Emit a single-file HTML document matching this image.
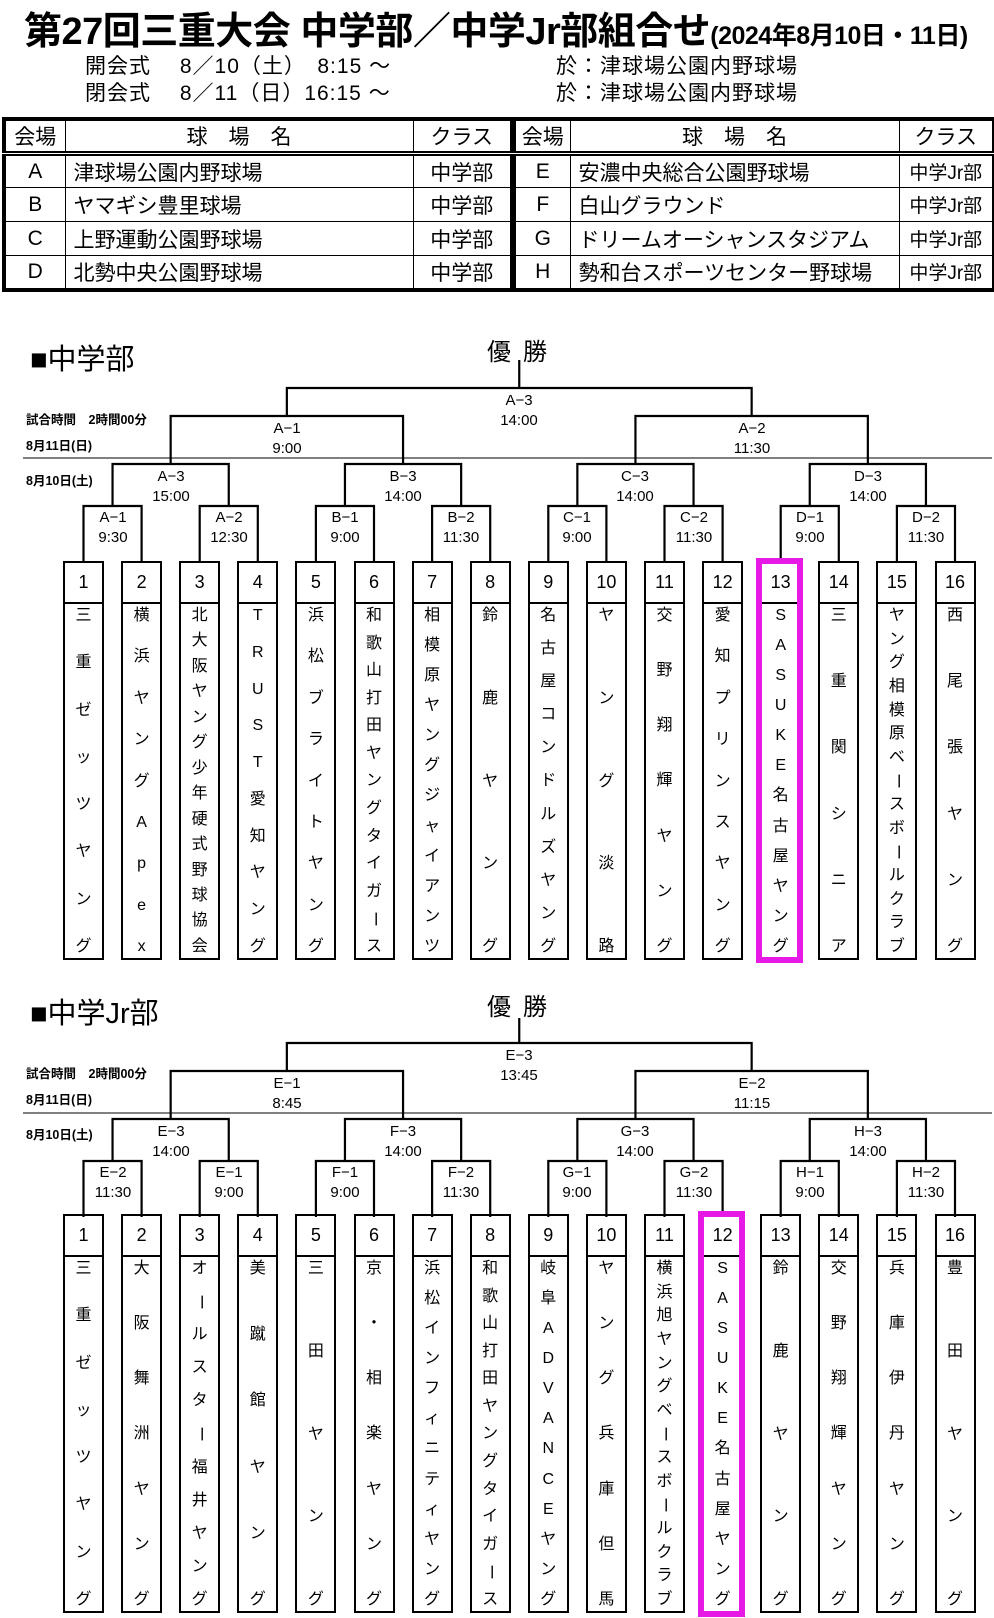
<!DOCTYPE html>
<html><head><meta charset="utf-8">
<style>
*{margin:0;padding:0;box-sizing:border-box}
body{width:994px;height:1618px;position:relative;background:#fff;font-family:"Liberation Sans","Noto Sans CJK JP",sans-serif;color:#000;overflow:hidden}
.a{position:absolute;white-space:nowrap}
.title{left:24px;top:0px;font-size:38px;font-weight:bold;letter-spacing:-0.5px}
.title small{font-size:25px;letter-spacing:-0.5px}
.sub{font-size:21px;letter-spacing:1px}
table{position:absolute;border-collapse:collapse;border:4px solid #000;table-layout:fixed}
td{border:1.5px solid #000;font-size:21px;height:34px;padding:0;text-align:center}
tr.h td{border-bottom:5px double #000}
td.n{text-align:left;padding-left:8px}
.num{position:absolute;width:41px;height:43px;border:2.5px solid #000;font-size:18px;text-align:center;line-height:38px}
.nm{position:absolute;width:41px;height:358px;border:2.5px solid #000;display:flex;flex-direction:column;justify-content:space-between;align-items:center;padding:3px 0 2px;font-size:16px;line-height:18px}
.nm i{font-style:normal;display:block;height:18px}
.nm i.r{transform:rotate(90deg)}
.hl{position:absolute;width:47px;border:6px solid #e619e6}
.head{font-size:29px}
.win{font-size:24px;letter-spacing:12px}
.sm{font-size:12.5px;font-weight:bold}
</style></head><body>
<div class="a title">第27回三重大会 中学部／中学Jr部組合せ<small>(2024年8月10日・11日)</small></div>
<div class="a sub" style="left:85px;top:50px">開会式　 8／10（土）　8:15 ～</div>
<div class="a sub" style="left:85px;top:77px">閉会式　 8／11（日）16:15 ～</div>
<div class="a sub" style="left:556px;top:50px">於：津球場公園内野球場</div>
<div class="a sub" style="left:556px;top:77px">於：津球場公園内野球場</div>

<table style="left:2px;top:117px;width:508px">
<colgroup><col style="width:61px"><col style="width:348px"><col style="width:99px"></colgroup>
<tr class="h"><td>会場</td><td>球　場　名</td><td>クラス</td></tr>
<tr><td>A</td><td class="n">津球場公園内野球場</td><td>中学部</td></tr>
<tr><td>B</td><td class="n">ヤマギシ豊里球場</td><td>中学部</td></tr>
<tr><td>C</td><td class="n">上野運動公園野球場</td><td>中学部</td></tr>
<tr><td>D</td><td class="n">北勢中央公園野球場</td><td>中学部</td></tr>
</table>
<table style="left:512px;top:117px;width:480px">
<colgroup><col style="width:56px"><col style="width:329px"><col style="width:95px"></colgroup>
<tr class="h"><td>会場</td><td>球　場　名</td><td>クラス</td></tr>
<tr><td>E</td><td class="n">安濃中央総合公園野球場</td><td style="font-size:19px">中学Jr部</td></tr>
<tr><td>F</td><td class="n">白山グラウンド</td><td style="font-size:19px">中学Jr部</td></tr>
<tr><td>G</td><td class="n">ドリームオーシャンスタジアム</td><td style="font-size:19px">中学Jr部</td></tr>
<tr><td>H</td><td class="n">勢和台スポーツセンター野球場</td><td style="font-size:19px">中学Jr部</td></tr>
</table>

<div class="a head" style="left:30px;top:336px">■中学部</div>
<div class="a win" style="left:487px;top:332px">優勝</div>
<div class="a head" style="left:30px;top:990px">■中学Jr部</div>
<div class="a win" style="left:487px;top:987px">優勝</div>

<div class="a sm" style="left:26px;top:409px">試合時間　2時間00分</div>
<div class="a sm" style="left:26px;top:435px">8月11日(日)</div>
<div class="a sm" style="left:26px;top:470px">8月10日(土)</div>
<div class="a sm" style="left:26px;top:1063px">試合時間　2時間00分</div>
<div class="a sm" style="left:26px;top:1089px">8月11日(日)</div>
<div class="a sm" style="left:26px;top:1124px">8月10日(土)</div>

<svg class="a" style="left:0;top:0" width="994" height="1618">
<g fill="none" stroke="#000" stroke-width="2.2">
<g id="br">
<path d="M83.5 562V506H141.6V562M199.7 562V506H257.8V562M315.9 562V506H374V562M432.1 562V506H490.2V562M548.3 562V506H606.4V562M664.5 562V506H722.6V562M780.7 562V506H838.8V562M896.9 562V506H955V562"/>
<path d="M112.55 506V464H228.75V506M344.95 506V464H461.15V506M577.35 506V464H693.55V506M809.75 506V464H925.95V506"/>
<path d="M170.65 464V416H403.05V464M635.45 464V416H867.85V464"/>
<path d="M286.85 416V388H751.65V416"/>
</g>
<use href="#br" transform="translate(0,655)"/>
<path d="M519.25 388V360M519.25 1043V1018"/>
</g>
<path d="M23 458H992M23 1113H992" stroke="#000" stroke-width="1"/>
<g font-family="Liberation Sans, Noto Sans CJK JP, sans-serif" font-size="15" text-anchor="middle">
<text x="519" y="405">A−3</text><text x="519" y="425">14:00</text>
<text x="287" y="433">A−1</text><text x="287" y="453">9:00</text>
<text x="752" y="433">A−2</text><text x="752" y="453">11:30</text>
<text x="171" y="481">A−3</text><text x="171" y="501">15:00</text>
<text x="403" y="481">B−3</text><text x="403" y="501">14:00</text>
<text x="635" y="481">C−3</text><text x="635" y="501">14:00</text>
<text x="868" y="481">D−3</text><text x="868" y="501">14:00</text>
<text x="113" y="522">A−1</text><text x="113" y="542">9:30</text>
<text x="229" y="522">A−2</text><text x="229" y="542">12:30</text>
<text x="345" y="522">B−1</text><text x="345" y="542">9:00</text>
<text x="461" y="522">B−2</text><text x="461" y="542">11:30</text>
<text x="577" y="522">C−1</text><text x="577" y="542">9:00</text>
<text x="694" y="522">C−2</text><text x="694" y="542">11:30</text>
<text x="810" y="522">D−1</text><text x="810" y="542">9:00</text>
<text x="926" y="522">D−2</text><text x="926" y="542">11:30</text>

<text x="519" y="1060">E−3</text><text x="519" y="1080">13:45</text>
<text x="287" y="1088">E−1</text><text x="287" y="1108">8:45</text>
<text x="752" y="1088">E−2</text><text x="752" y="1108">11:15</text>
<text x="171" y="1136">E−3</text><text x="171" y="1156">14:00</text>
<text x="403" y="1136">F−3</text><text x="403" y="1156">14:00</text>
<text x="635" y="1136">G−3</text><text x="635" y="1156">14:00</text>
<text x="868" y="1136">H−3</text><text x="868" y="1156">14:00</text>
<text x="113" y="1177">E−2</text><text x="113" y="1197">11:30</text>
<text x="229" y="1177">E−1</text><text x="229" y="1197">9:00</text>
<text x="345" y="1177">F−1</text><text x="345" y="1197">9:00</text>
<text x="461" y="1177">F−2</text><text x="461" y="1197">11:30</text>
<text x="577" y="1177">G−1</text><text x="577" y="1197">9:00</text>
<text x="694" y="1177">G−2</text><text x="694" y="1197">11:30</text>
<text x="810" y="1177">H−1</text><text x="810" y="1197">9:00</text>
<text x="926" y="1177">H−2</text><text x="926" y="1197">11:30</text>
</g>
</svg>

<!-- Section 1 -->
<div class="num" style="left:63px;top:561px">1</div>
<div class="num" style="left:121.1px;top:561px">2</div>
<div class="num" style="left:179.2px;top:561px">3</div>
<div class="num" style="left:237.3px;top:561px">4</div>
<div class="num" style="left:295.4px;top:561px">5</div>
<div class="num" style="left:353.5px;top:561px">6</div>
<div class="num" style="left:411.6px;top:561px">7</div>
<div class="num" style="left:469.7px;top:561px">8</div>
<div class="num" style="left:527.8px;top:561px">9</div>
<div class="num" style="left:585.9px;top:561px">10</div>
<div class="num" style="left:644px;top:561px">11</div>
<div class="num" style="left:702.1px;top:561px">12</div>
<div class="num" style="left:760.2px;top:561px">13</div>
<div class="num" style="left:818.3px;top:561px">14</div>
<div class="num" style="left:876.4px;top:561px">15</div>
<div class="num" style="left:934.5px;top:561px">16</div>

<div class="nm" style="left:63px;top:602px"><i>三</i><i>重</i><i>ゼ</i><i>ッ</i><i>ツ</i><i>ヤ</i><i>ン</i><i>グ</i></div>
<div class="nm" style="left:121.1px;top:602px"><i>横</i><i>浜</i><i>ヤ</i><i>ン</i><i>グ</i><i>A</i><i>p</i><i>e</i><i>x</i></div>
<div class="nm" style="left:179.2px;top:602px"><i>北</i><i>大</i><i>阪</i><i>ヤ</i><i>ン</i><i>グ</i><i>少</i><i>年</i><i>硬</i><i>式</i><i>野</i><i>球</i><i>協</i><i>会</i></div>
<div class="nm" style="left:237.3px;top:602px"><i>T</i><i>R</i><i>U</i><i>S</i><i>T</i><i>愛</i><i>知</i><i>ヤ</i><i>ン</i><i>グ</i></div>
<div class="nm" style="left:295.4px;top:602px"><i>浜</i><i>松</i><i>ブ</i><i>ラ</i><i>イ</i><i>ト</i><i>ヤ</i><i>ン</i><i>グ</i></div>
<div class="nm" style="left:353.5px;top:602px"><i>和</i><i>歌</i><i>山</i><i>打</i><i>田</i><i>ヤ</i><i>ン</i><i>グ</i><i>タ</i><i>イ</i><i>ガ</i><i class="r">ー</i><i>ス</i></div>
<div class="nm" style="left:411.6px;top:602px"><i>相</i><i>模</i><i>原</i><i>ヤ</i><i>ン</i><i>グ</i><i>ジ</i><i>ャ</i><i>イ</i><i>ア</i><i>ン</i><i>ツ</i></div>
<div class="nm" style="left:469.7px;top:602px"><i>鈴</i><i>鹿</i><i>ヤ</i><i>ン</i><i>グ</i></div>
<div class="nm" style="left:527.8px;top:602px"><i>名</i><i>古</i><i>屋</i><i>コ</i><i>ン</i><i>ド</i><i>ル</i><i>ズ</i><i>ヤ</i><i>ン</i><i>グ</i></div>
<div class="nm" style="left:585.9px;top:602px"><i>ヤ</i><i>ン</i><i>グ</i><i>淡</i><i>路</i></div>
<div class="nm" style="left:644px;top:602px"><i>交</i><i>野</i><i>翔</i><i>輝</i><i>ヤ</i><i>ン</i><i>グ</i></div>
<div class="nm" style="left:702.1px;top:602px"><i>愛</i><i>知</i><i>プ</i><i>リ</i><i>ン</i><i>ス</i><i>ヤ</i><i>ン</i><i>グ</i></div>
<div class="nm" style="left:760.2px;top:602px"><i>S</i><i>A</i><i>S</i><i>U</i><i>K</i><i>E</i><i>名</i><i>古</i><i>屋</i><i>ヤ</i><i>ン</i><i>グ</i></div>
<div class="nm" style="left:818.3px;top:602px"><i>三</i><i>重</i><i>関</i><i>シ</i><i>ニ</i><i>ア</i></div>
<div class="nm" style="left:876.4px;top:602px"><i>ヤ</i><i>ン</i><i>グ</i><i>相</i><i>模</i><i>原</i><i>ベ</i><i class="r">ー</i><i>ス</i><i>ボ</i><i class="r">ー</i><i>ル</i><i>ク</i><i>ラ</i><i>ブ</i></div>
<div class="nm" style="left:934.5px;top:602px"><i>西</i><i>尾</i><i>張</i><i>ヤ</i><i>ン</i><i>グ</i></div>
<div class="hl" style="left:756px;top:558px;height:405px"></div>

<!-- Section 2 -->
<div class="num" style="left:63px;top:1214px">1</div>
<div class="num" style="left:121.1px;top:1214px">2</div>
<div class="num" style="left:179.2px;top:1214px">3</div>
<div class="num" style="left:237.3px;top:1214px">4</div>
<div class="num" style="left:295.4px;top:1214px">5</div>
<div class="num" style="left:353.5px;top:1214px">6</div>
<div class="num" style="left:411.6px;top:1214px">7</div>
<div class="num" style="left:469.7px;top:1214px">8</div>
<div class="num" style="left:527.8px;top:1214px">9</div>
<div class="num" style="left:585.9px;top:1214px">10</div>
<div class="num" style="left:644px;top:1214px">11</div>
<div class="num" style="left:702.1px;top:1214px">12</div>
<div class="num" style="left:760.2px;top:1214px">13</div>
<div class="num" style="left:818.3px;top:1214px">14</div>
<div class="num" style="left:876.4px;top:1214px">15</div>
<div class="num" style="left:934.5px;top:1214px">16</div>

<div class="nm" style="left:63px;top:1255px"><i>三</i><i>重</i><i>ゼ</i><i>ッ</i><i>ツ</i><i>ヤ</i><i>ン</i><i>グ</i></div>
<div class="nm" style="left:121.1px;top:1255px"><i>大</i><i>阪</i><i>舞</i><i>洲</i><i>ヤ</i><i>ン</i><i>グ</i></div>
<div class="nm" style="left:179.2px;top:1255px"><i>オ</i><i class="r">ー</i><i>ル</i><i>ス</i><i>タ</i><i class="r">ー</i><i>福</i><i>井</i><i>ヤ</i><i>ン</i><i>グ</i></div>
<div class="nm" style="left:237.3px;top:1255px"><i>美</i><i>蹴</i><i>館</i><i>ヤ</i><i>ン</i><i>グ</i></div>
<div class="nm" style="left:295.4px;top:1255px"><i>三</i><i>田</i><i>ヤ</i><i>ン</i><i>グ</i></div>
<div class="nm" style="left:353.5px;top:1255px"><i>京</i><i>・</i><i>相</i><i>楽</i><i>ヤ</i><i>ン</i><i>グ</i></div>
<div class="nm" style="left:411.6px;top:1255px"><i>浜</i><i>松</i><i>イ</i><i>ン</i><i>フ</i><i>ィ</i><i>ニ</i><i>テ</i><i>ィ</i><i>ヤ</i><i>ン</i><i>グ</i></div>
<div class="nm" style="left:469.7px;top:1255px"><i>和</i><i>歌</i><i>山</i><i>打</i><i>田</i><i>ヤ</i><i>ン</i><i>グ</i><i>タ</i><i>イ</i><i>ガ</i><i class="r">ー</i><i>ス</i></div>
<div class="nm" style="left:527.8px;top:1255px"><i>岐</i><i>阜</i><i>A</i><i>D</i><i>V</i><i>A</i><i>N</i><i>C</i><i>E</i><i>ヤ</i><i>ン</i><i>グ</i></div>
<div class="nm" style="left:585.9px;top:1255px"><i>ヤ</i><i>ン</i><i>グ</i><i>兵</i><i>庫</i><i>但</i><i>馬</i></div>
<div class="nm" style="left:644px;top:1255px"><i>横</i><i>浜</i><i>旭</i><i>ヤ</i><i>ン</i><i>グ</i><i>ベ</i><i class="r">ー</i><i>ス</i><i>ボ</i><i class="r">ー</i><i>ル</i><i>ク</i><i>ラ</i><i>ブ</i></div>
<div class="nm" style="left:702.1px;top:1255px"><i>S</i><i>A</i><i>S</i><i>U</i><i>K</i><i>E</i><i>名</i><i>古</i><i>屋</i><i>ヤ</i><i>ン</i><i>グ</i></div>
<div class="nm" style="left:760.2px;top:1255px"><i>鈴</i><i>鹿</i><i>ヤ</i><i>ン</i><i>グ</i></div>
<div class="nm" style="left:818.3px;top:1255px"><i>交</i><i>野</i><i>翔</i><i>輝</i><i>ヤ</i><i>ン</i><i>グ</i></div>
<div class="nm" style="left:876.4px;top:1255px"><i>兵</i><i>庫</i><i>伊</i><i>丹</i><i>ヤ</i><i>ン</i><i>グ</i></div>
<div class="nm" style="left:934.5px;top:1255px"><i>豊</i><i>田</i><i>ヤ</i><i>ン</i><i>グ</i></div>
<div class="hl" style="left:698px;top:1211px;height:406px"></div>
</body></html>
